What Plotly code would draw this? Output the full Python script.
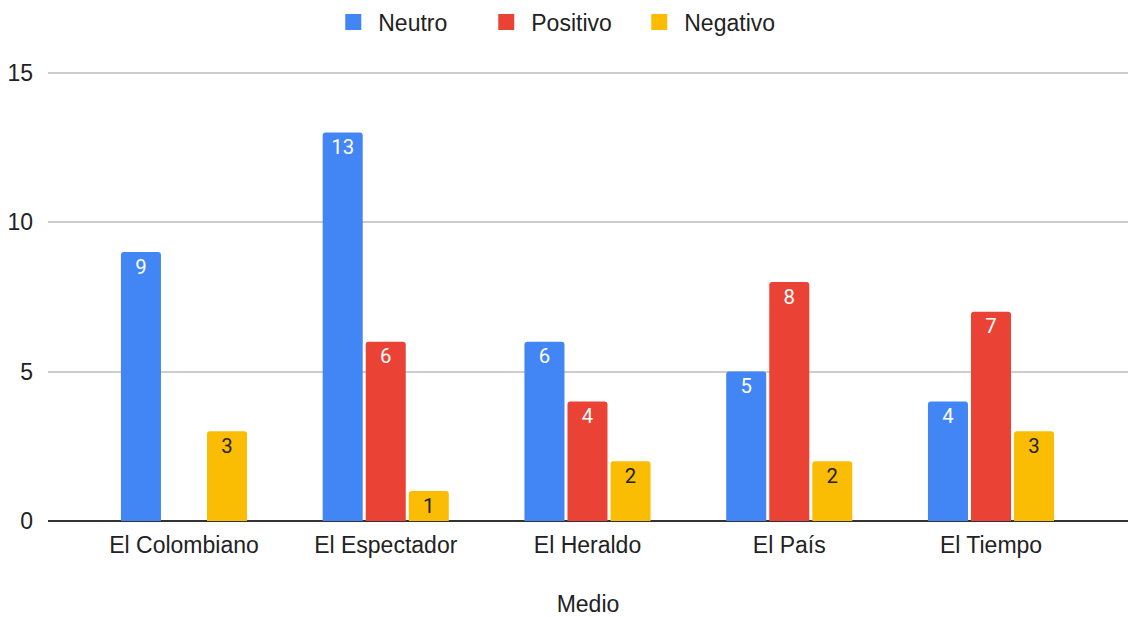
import plotly.graph_objects as go

categories = ["El Colombiano", "El Espectador", "El Heraldo", "El País", "El Tiempo"]
neutro = [9, 13, 6, 5, 4]
positivo = [0, 6, 4, 8, 7]
negativo = [3, 1, 2, 2, 3]

series = [
    ("Neutro", neutro, "#4285F4", "white"),
    ("Positivo", positivo, "#EA4335", "white"),
    ("Negativo", negativo, "#FBBC04", "#222222"),
]

FONT = "Liberation Sans, Arial, sans-serif"
LABEL_FONT = "Roboto"
fig = go.Figure()
for name, vals, color, tcolor in series:
    fig.add_trace(go.Bar(
        name=name, x=categories, y=vals, showlegend=False,
        marker=dict(color=color, cornerradius=3, line=dict(width=0)),
        text=[str(v) if v else "" for v in vals],
        textposition="inside", insidetextanchor="end",
        textfont=dict(color=tcolor, size=23, family=LABEL_FONT),
        textangle=0, cliponaxis=False,
    ))
# legend proxies (larger square symbols)
for name, vals, color, tcolor in series:
    fig.add_trace(go.Scatter(
        name=name, x=[None], y=[None], mode="markers",
        marker=dict(symbol="square", size=16, color=color),
        showlegend=True,
    ))

fig.update_layout(
    width=1130, height=617,
    margin=dict(l=48, r=2, t=71, b=96, autoexpand=False),
    paper_bgcolor="white", plot_bgcolor="white",
    font=dict(family=FONT, size=23, color="#222222"),
    barmode="group", bargap=0.36, bargroupgap=0.07,
    uniformtext=dict(minsize=10, mode="show"),
    legend=dict(orientation="h", x=0.472, xanchor="center", y=1.109, yanchor="middle",
                yref="paper", font=dict(size=23, color="#222222"),
                itemwidth=40, entrywidth=98, tracegroupgap=0),
    showlegend=True,
)
fig.update_xaxes(range=[-0.674, 4.679], showgrid=False, ticks="", automargin=False,
                 title=dict(text="Medio", font=dict(size=23), standoff=38),
                 tickfont=dict(size=23), ticklabelstandoff=8)
fig.update_yaxes(range=[0, 15.06], tickvals=[0, 5, 10, 15], showgrid=True, gridcolor="#cccccc",
                 gridwidth=1.5, zeroline=True, zerolinecolor="#333333", zerolinewidth=1.5,
                 automargin=False, tickfont=dict(size=23), ticklabelstandoff=14)

fig.write_html("out.html", config={"displayModeBar": False},
               post_script="document.body.style.margin='0';")
